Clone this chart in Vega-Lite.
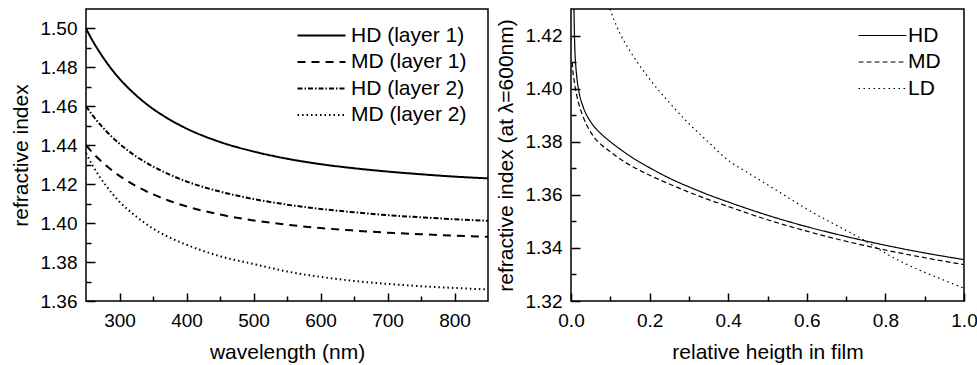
{
  "$schema": "https://vega.github.io/schema/vega-lite/v6.json",
  "padding": {"left": 9, "top": 8, "right": 0, "bottom": 5},
  "background": "white",
  "config": {
    "font": "Liberation Sans",
    "view": {"stroke": "black", "strokeWidth": 1.5},
    "axis": {
      "domain": false, "grid": false, "tickColor": "black", "tickWidth": 1.5, "zindex": 1,
      "labelColor": "black", "titleColor": "black", "labelFont": "Liberation Sans", "titleFont": "Liberation Sans",
      "labelFontSize": 19, "titleFontSize": 21, "titleFontWeight": "normal", "labelFlush": false, "labelOverlap": false
    },
    "legend": {
      "title": null, "orient": "none", "labelFont": "Liberation Sans", "labelFontSize": 21, "labelColor": "black",
      "symbolType": "M-4,0H4", "symbolSize": 144, "symbolStrokeColor": "black", "labelOffset": 19, "rowPadding": 4.5, "padding": 0
    }
  },
  "datasets": {
    "wl": [
      {"w": 250, "n": 1.5000, "s": "HD (layer 1)"}, {"w": 260, "n": 1.4936, "s": "HD (layer 1)"}, {"w": 270, "n": 1.4880, "s": "HD (layer 1)"}, {"w": 280, "n": 1.4829, "s": "HD (layer 1)"}, {"w": 290, "n": 1.4783, "s": "HD (layer 1)"}, {"w": 300, "n": 1.4742, "s": "HD (layer 1)"}, {"w": 325, "n": 1.4656, "s": "HD (layer 1)"}, {"w": 350, "n": 1.4587, "s": "HD (layer 1)"}, {"w": 375, "n": 1.4532, "s": "HD (layer 1)"}, {"w": 400, "n": 1.4486, "s": "HD (layer 1)"}, {"w": 450, "n": 1.4417, "s": "HD (layer 1)"}, {"w": 500, "n": 1.4368, "s": "HD (layer 1)"}, {"w": 550, "n": 1.4331, "s": "HD (layer 1)"}, {"w": 600, "n": 1.4303, "s": "HD (layer 1)"}, {"w": 650, "n": 1.4282, "s": "HD (layer 1)"}, {"w": 700, "n": 1.4265, "s": "HD (layer 1)"}, {"w": 750, "n": 1.4251, "s": "HD (layer 1)"}, {"w": 800, "n": 1.4239, "s": "HD (layer 1)"}, {"w": 850, "n": 1.4230, "s": "HD (layer 1)"},
      {"w": 250, "n": 1.4400, "s": "MD (layer 1)"}, {"w": 260, "n": 1.4361, "s": "MD (layer 1)"}, {"w": 270, "n": 1.4327, "s": "MD (layer 1)"}, {"w": 280, "n": 1.4296, "s": "MD (layer 1)"}, {"w": 290, "n": 1.4268, "s": "MD (layer 1)"}, {"w": 300, "n": 1.4243, "s": "MD (layer 1)"}, {"w": 325, "n": 1.4190, "s": "MD (layer 1)"}, {"w": 350, "n": 1.4148, "s": "MD (layer 1)"}, {"w": 375, "n": 1.4114, "s": "MD (layer 1)"}, {"w": 400, "n": 1.4086, "s": "MD (layer 1)"}, {"w": 450, "n": 1.4044, "s": "MD (layer 1)"}, {"w": 500, "n": 1.4014, "s": "MD (layer 1)"}, {"w": 550, "n": 1.3992, "s": "MD (layer 1)"}, {"w": 600, "n": 1.3975, "s": "MD (layer 1)"}, {"w": 650, "n": 1.3962, "s": "MD (layer 1)"}, {"w": 700, "n": 1.3951, "s": "MD (layer 1)"}, {"w": 750, "n": 1.3943, "s": "MD (layer 1)"}, {"w": 800, "n": 1.3936, "s": "MD (layer 1)"}, {"w": 850, "n": 1.3930, "s": "MD (layer 1)"},
      {"w": 250, "n": 1.4600, "s": "HD (layer 2)"}, {"w": 260, "n": 1.4553, "s": "HD (layer 2)"}, {"w": 270, "n": 1.4511, "s": "HD (layer 2)"}, {"w": 280, "n": 1.4473, "s": "HD (layer 2)"}, {"w": 290, "n": 1.4439, "s": "HD (layer 2)"}, {"w": 300, "n": 1.4408, "s": "HD (layer 2)"}, {"w": 325, "n": 1.4342, "s": "HD (layer 2)"}, {"w": 350, "n": 1.4291, "s": "HD (layer 2)"}, {"w": 375, "n": 1.4249, "s": "HD (layer 2)"}, {"w": 400, "n": 1.4214, "s": "HD (layer 2)"}, {"w": 450, "n": 1.4162, "s": "HD (layer 2)"}, {"w": 500, "n": 1.4124, "s": "HD (layer 2)"}, {"w": 550, "n": 1.4095, "s": "HD (layer 2)"}, {"w": 600, "n": 1.4073, "s": "HD (layer 2)"}, {"w": 650, "n": 1.4056, "s": "HD (layer 2)"}, {"w": 700, "n": 1.4041, "s": "HD (layer 2)"}, {"w": 750, "n": 1.4030, "s": "HD (layer 2)"}, {"w": 800, "n": 1.4020, "s": "HD (layer 2)"}, {"w": 850, "n": 1.4012, "s": "HD (layer 2)"},
      {"w": 250, "n": 1.4360, "s": "MD (layer 2)"}, {"w": 260, "n": 1.4295, "s": "MD (layer 2)"}, {"w": 270, "n": 1.4240, "s": "MD (layer 2)"}, {"w": 280, "n": 1.4192, "s": "MD (layer 2)"}, {"w": 290, "n": 1.4148, "s": "MD (layer 2)"}, {"w": 300, "n": 1.4110, "s": "MD (layer 2)"}, {"w": 325, "n": 1.4034, "s": "MD (layer 2)"}, {"w": 350, "n": 1.3972, "s": "MD (layer 2)"}, {"w": 375, "n": 1.3926, "s": "MD (layer 2)"}, {"w": 400, "n": 1.3889, "s": "MD (layer 2)"}, {"w": 450, "n": 1.3830, "s": "MD (layer 2)"}, {"w": 500, "n": 1.3790, "s": "MD (layer 2)"}, {"w": 550, "n": 1.3752, "s": "MD (layer 2)"}, {"w": 600, "n": 1.3724, "s": "MD (layer 2)"}, {"w": 650, "n": 1.3703, "s": "MD (layer 2)"}, {"w": 700, "n": 1.3688, "s": "MD (layer 2)"}, {"w": 750, "n": 1.3676, "s": "MD (layer 2)"}, {"w": 800, "n": 1.3667, "s": "MD (layer 2)"}, {"w": 850, "n": 1.3659, "s": "MD (layer 2)"}
    ],
    "ht": [
      {"h": 0.0075, "n": 1.4300, "s": "HD"}, {"h": 0.0085, "n": 1.4220, "s": "HD"}, {"h": 0.01, "n": 1.4140, "s": "HD"}, {"h": 0.0125, "n": 1.4080, "s": "HD"}, {"h": 0.015, "n": 1.4040, "s": "HD"}, {"h": 0.02, "n": 1.3990, "s": "HD"}, {"h": 0.03, "n": 1.3935, "s": "HD"}, {"h": 0.04, "n": 1.3900, "s": "HD"}, {"h": 0.05, "n": 1.3875, "s": "HD"}, {"h": 0.06, "n": 1.3855, "s": "HD"}, {"h": 0.08, "n": 1.3825, "s": "HD"}, {"h": 0.1, "n": 1.3800, "s": "HD"}, {"h": 0.125, "n": 1.3772, "s": "HD"}, {"h": 0.15, "n": 1.3746, "s": "HD"}, {"h": 0.2, "n": 1.3702, "s": "HD"}, {"h": 0.25, "n": 1.3663, "s": "HD"}, {"h": 0.3, "n": 1.3630, "s": "HD"}, {"h": 0.35, "n": 1.3600, "s": "HD"}, {"h": 0.4, "n": 1.3573, "s": "HD"}, {"h": 0.5, "n": 1.3523, "s": "HD"}, {"h": 0.6, "n": 1.3480, "s": "HD"}, {"h": 0.7, "n": 1.3443, "s": "HD"}, {"h": 0.8, "n": 1.3410, "s": "HD"}, {"h": 0.9, "n": 1.3381, "s": "HD"}, {"h": 1.0, "n": 1.3356, "s": "HD"},
      {"h": 0.003, "n": 1.4100, "s": "MD"}, {"h": 0.005, "n": 1.4065, "s": "MD"}, {"h": 0.0075, "n": 1.4035, "s": "MD"}, {"h": 0.01, "n": 1.4010, "s": "MD"}, {"h": 0.015, "n": 1.3972, "s": "MD"}, {"h": 0.02, "n": 1.3942, "s": "MD"}, {"h": 0.03, "n": 1.3897, "s": "MD"}, {"h": 0.04, "n": 1.3863, "s": "MD"}, {"h": 0.05, "n": 1.3836, "s": "MD"}, {"h": 0.06, "n": 1.3815, "s": "MD"}, {"h": 0.08, "n": 1.3785, "s": "MD"}, {"h": 0.1, "n": 1.3762, "s": "MD"}, {"h": 0.125, "n": 1.3735, "s": "MD"}, {"h": 0.15, "n": 1.3712, "s": "MD"}, {"h": 0.2, "n": 1.3674, "s": "MD"}, {"h": 0.25, "n": 1.3641, "s": "MD"}, {"h": 0.3, "n": 1.3610, "s": "MD"}, {"h": 0.35, "n": 1.3582, "s": "MD"}, {"h": 0.4, "n": 1.3556, "s": "MD"}, {"h": 0.5, "n": 1.3506, "s": "MD"}, {"h": 0.6, "n": 1.3463, "s": "MD"}, {"h": 0.7, "n": 1.3425, "s": "MD"}, {"h": 0.8, "n": 1.3392, "s": "MD"}, {"h": 0.9, "n": 1.3363, "s": "MD"}, {"h": 1.0, "n": 1.3337, "s": "MD"},
      {"h": 0.099, "n": 1.4300, "s": "LD"}, {"h": 0.11, "n": 1.4257, "s": "LD"}, {"h": 0.125, "n": 1.4207, "s": "LD"}, {"h": 0.15, "n": 1.4142, "s": "LD"}, {"h": 0.175, "n": 1.4086, "s": "LD"}, {"h": 0.2, "n": 1.4036, "s": "LD"}, {"h": 0.25, "n": 1.3948, "s": "LD"}, {"h": 0.3, "n": 1.3868, "s": "LD"}, {"h": 0.35, "n": 1.3798, "s": "LD"}, {"h": 0.4, "n": 1.3730, "s": "LD"}, {"h": 0.45, "n": 1.3683, "s": "LD"}, {"h": 0.5, "n": 1.3638, "s": "LD"}, {"h": 0.55, "n": 1.3592, "s": "LD"}, {"h": 0.6, "n": 1.3546, "s": "LD"}, {"h": 0.65, "n": 1.3505, "s": "LD"}, {"h": 0.7, "n": 1.3466, "s": "LD"}, {"h": 0.75, "n": 1.3426, "s": "LD"}, {"h": 0.8, "n": 1.3380, "s": "LD"}, {"h": 0.85, "n": 1.3341, "s": "LD"}, {"h": 0.9, "n": 1.3308, "s": "LD"}, {"h": 0.95, "n": 1.3278, "s": "LD"}, {"h": 1.0, "n": 1.3248, "s": "LD"}
    ]
  },
  "spacing": 5,
  "resolve": {
    "scale": {"strokeDash": "independent", "strokeWidth": "independent"},
    "legend": {"strokeDash": "independent", "strokeWidth": "independent"}
  },
  "hconcat": [
    {
      "width": 402, "height": 292,
      "data": {"name": "wl"},
      "mark": {"type": "line", "stroke": "black", "clip": true, "interpolate": "monotone"},
      "encoding": {
        "x": {"field": "w", "type": "quantitative",
          "scale": {"domain": [250, 850], "nice": false, "zero": false},
          "axis": {"title": "wavelength (nm)", "values": [300, 350, 400, 450, 500, 550, 600, 650, 700, 750, 800], "format": "d",
            "labelExpr": "datum.value % 100 === 0 ? datum.label : ''",
            "tickSize": {"condition": {"test": "datum.value % 100 === 0", "value": -8}, "value": -5},
            "labelPadding": 18, "titlePadding": 8}},
        "y": {"field": "n", "type": "quantitative",
          "scale": {"domain": [1.36, 1.51], "nice": false, "zero": false},
          "axis": {"title": "refractive index", "values": [1.36, 1.37, 1.38, 1.39, 1.40, 1.41, 1.42, 1.43, 1.44, 1.45, 1.46, 1.47, 1.48, 1.49, 1.50], "format": ".2f",
            "labelExpr": "round(datum.value * 100) % 2 === 0 ? datum.label : ''",
            "tickSize": {"condition": {"test": "round(datum.value * 100) % 2 === 0", "value": -9}, "value": -5},
            "labelPadding": 18, "titlePadding": 9}},
        "strokeDash": {"field": "s", "type": "nominal",
          "scale": {"domain": ["HD (layer 1)", "MD (layer 1)", "HD (layer 2)", "MD (layer 2)"], "range": [[1, 0], [8, 6], [5, 2, 1.5, 2], [1.5, 3]]},
          "legend": {"legendX": 225, "legendY": 16,
            "encode": {"symbols": {"update": {"strokeWidth": {"signal": "indexof(datum.label, 'layer 1') >= 0 ? 2 : 1.2"}}}}}},
        "strokeWidth": {"field": "s", "type": "nominal",
          "scale": {"domain": ["HD (layer 1)", "MD (layer 1)", "HD (layer 2)", "MD (layer 2)"], "range": [2, 2, 1.2, 1.2]},
          "legend": null}
      }
    },
    {
      "width": 393, "height": 292,
      "data": {"name": "ht"},
      "mark": {"type": "line", "stroke": "black", "strokeWidth": 1.2, "clip": true, "interpolate": "monotone"},
      "encoding": {
        "x": {"field": "h", "type": "quantitative",
          "scale": {"domain": [0, 1], "nice": false, "zero": false},
          "axis": {"title": "relative heigth in film", "values": [0, 0.1, 0.2, 0.3, 0.4, 0.5, 0.6, 0.7, 0.8, 0.9, 1.0], "format": ".1f",
            "labelExpr": "round(datum.value * 10) % 2 === 0 ? datum.label : ''",
            "tickSize": {"condition": {"test": "round(datum.value * 10) % 2 === 0", "value": -8}, "value": -5},
            "labelPadding": 18, "titlePadding": 8}},
        "y": {"field": "n", "type": "quantitative",
          "scale": {"domain": [1.32, 1.43], "nice": false, "zero": false},
          "axis": {"title": "refractive index (at λ=600nm)", "values": [1.32, 1.33, 1.34, 1.35, 1.36, 1.37, 1.38, 1.39, 1.40, 1.41, 1.42], "format": ".2f",
            "labelExpr": "round(datum.value * 100) % 2 === 0 ? datum.label : ''",
            "tickSize": {"condition": {"test": "round(datum.value * 100) % 2 === 0", "value": -9}, "value": -5},
            "labelPadding": 18, "titlePadding": 9}},
        "strokeDash": {"field": "s", "type": "nominal",
          "scale": {"domain": ["HD", "MD", "LD"], "range": [[1, 0], [5, 3], [1.5, 3.5]]},
          "legend": {"legendX": 301, "legendY": 16, "labelOffset": 15, "symbolStrokeWidth": 1.2}}
      }
    }
  ]
}
